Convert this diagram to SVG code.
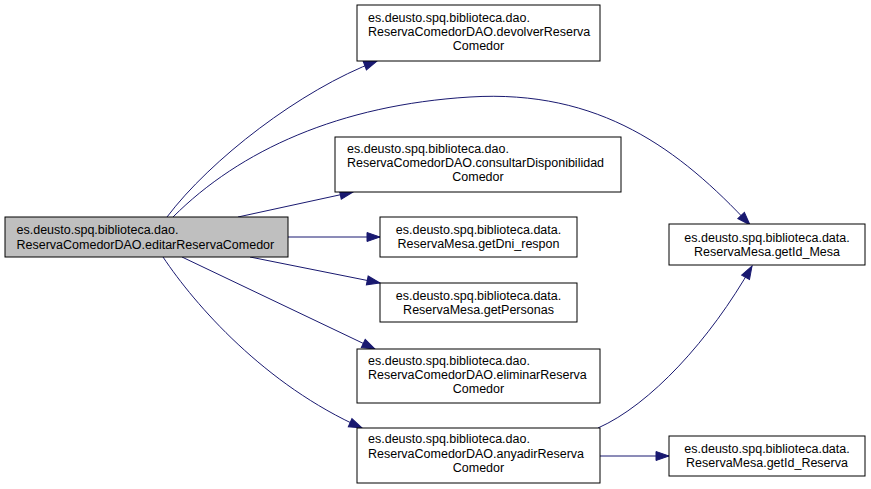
<svg xmlns="http://www.w3.org/2000/svg" width="871" height="489" viewBox="0 0 871 489">
<style>
  .bg { fill: #ffffff; }
  .node rect { fill: #ffffff; stroke: #000000; stroke-width: 1; }
  .node.main rect { fill: #bfbfbf; }
  text { font-family: "Liberation Sans", Arial, Helvetica, sans-serif; font-size: 12.5px; fill: #000000; }
  .c { text-anchor: middle; }
  .edge { fill: none; stroke: #191970; stroke-width: 1; marker-end: url(#arrow); }
</style>
<defs>
  <marker id="arrow" markerUnits="userSpaceOnUse" markerWidth="14" markerHeight="10" refX="13" refY="4.5" orient="auto" overflow="visible">
    <path d="M0,0 L13,4.5 L0,9 Z" fill="#191970" stroke="#191970" stroke-width="1"/>
  </marker>
</defs>
<rect class="bg" x="0" y="0" width="871" height="489"/>

<g id="connectors">
  <path class="edge" d="M167,217 C210,160 300,90 377,61"/>
  <path class="edge" d="M173,217 C240,150 340,105 470,97 C600,89 680,150 750,225"/>
  <path class="edge" d="M238,217 L353,192"/>
  <path class="edge" d="M288,237 L380,237"/>
  <path class="edge" d="M250,257 L380,283"/>
  <path class="edge" d="M182,257 L375,349"/>
  <path class="edge" d="M163,257 C195,305 265,385 362,428"/>
  <path class="edge" d="M598,428 C650,405 710,340 752,266"/>
  <path class="edge" d="M600,456 L669,456"/>
</g>

<g id="node-editar" class="node main">
  <rect x="5" y="217" width="283" height="40"/>
  <text x="16.5" y="234.3">es.deusto.spq.biblioteca.dao.</text>
  <text x="16.5" y="248.7">ReservaComedorDAO.editarReservaComedor</text>
</g>

<g id="node-devolver" class="node">
  <rect x="357" y="5" width="243" height="56"/>
  <text x="368" y="21.7">es.deusto.spq.biblioteca.dao.</text>
  <text x="368" y="36">ReservaComedorDAO.devolverReserva</text>
  <text class="c" x="478.5" y="50.3">Comedor</text>
</g>

<g id="node-consultar" class="node">
  <rect x="335" y="137" width="286" height="55"/>
  <text x="347" y="152.7">es.deusto.spq.biblioteca.dao.</text>
  <text x="347" y="167">ReservaComedorDAO.consultarDisponibilidad</text>
  <text class="c" x="478" y="181.3">Comedor</text>
</g>

<g id="node-getDni" class="node">
  <rect x="380" y="217" width="197" height="40"/>
  <text class="c" x="478.5" y="234">es.deusto.spq.biblioteca.data.</text>
  <text class="c" x="478.5" y="248.3">ReservaMesa.getDni_respon</text>
</g>

<g id="node-getPersonas" class="node">
  <rect x="380" y="283" width="197" height="39"/>
  <text class="c" x="478.5" y="299.5">es.deusto.spq.biblioteca.data.</text>
  <text class="c" x="478.5" y="313.8">ReservaMesa.getPersonas</text>
</g>

<g id="node-eliminar" class="node">
  <rect x="357" y="349" width="243" height="54"/>
  <text x="368" y="365">es.deusto.spq.biblioteca.dao.</text>
  <text x="368" y="379">ReservaComedorDAO.eliminarReserva</text>
  <text class="c" x="478.5" y="393">Comedor</text>
</g>

<g id="node-anyadir" class="node">
  <rect x="357" y="428" width="243" height="55"/>
  <text x="368" y="443.3">es.deusto.spq.biblioteca.dao.</text>
  <text x="368" y="457.5">ReservaComedorDAO.anyadirReserva</text>
  <text class="c" x="478.5" y="471.7">Comedor</text>
</g>

<g id="node-getIdMesa" class="node">
  <rect x="669" y="224" width="196" height="41"/>
  <text class="c" x="767" y="241.5">es.deusto.spq.biblioteca.data.</text>
  <text class="c" x="767" y="255.8">ReservaMesa.getId_Mesa</text>
</g>

<g id="node-getIdReserva" class="node">
  <rect x="669" y="436" width="196" height="40"/>
  <text class="c" x="767" y="453">es.deusto.spq.biblioteca.data.</text>
  <text class="c" x="767" y="467">ReservaMesa.getId_Reserva</text>
</g>
</svg>
